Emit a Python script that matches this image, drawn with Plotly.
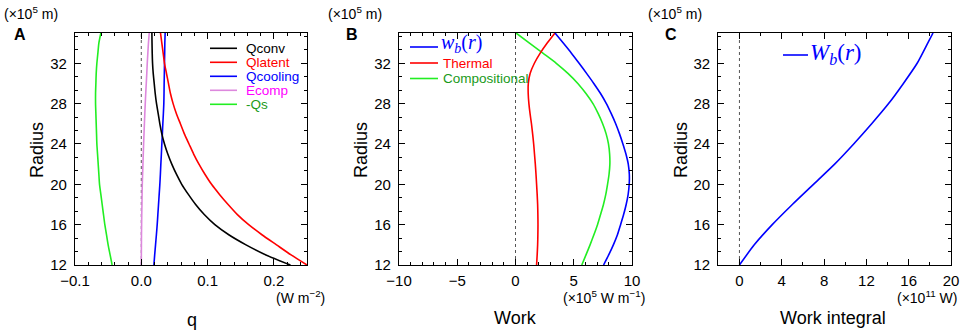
import plotly.graph_objects as go

# ---------------- data ----------------
radius = list(range(12, 36))

q_conv = [0.225, 0.188, 0.158, 0.132, 0.111, 0.095, 0.082, 0.071, 0.061, 0.053, 0.046, 0.040,
          0.035, 0.031, 0.028, 0.0255, 0.023, 0.021, 0.0195, 0.018, 0.017, 0.0165, 0.0162, 0.016]
q_latent = [0.25, 0.226, 0.204, 0.182, 0.162, 0.145, 0.131, 0.118, 0.106, 0.096, 0.087, 0.079,
            0.072, 0.065, 0.059, 0.053, 0.048, 0.044, 0.041, 0.038, 0.035, 0.033, 0.031, 0.029]
q_cooling = [0.019, 0.0202, 0.0215, 0.0228, 0.024, 0.025, 0.026, 0.027, 0.028, 0.0288, 0.0295, 0.0303,
             0.031, 0.0318, 0.0325, 0.0333, 0.034, 0.0343, 0.0345, 0.0348, 0.035, 0.0353, 0.0355, 0.036]
e_comp = [0.0, 0.0001, 0.0002, 0.0003, 0.0005, 0.0007, 0.001, 0.0012, 0.0015, 0.002, 0.0025, 0.003,
          0.0035, 0.0041, 0.0047, 0.0053, 0.006, 0.0067, 0.0075, 0.0083, 0.009, 0.0099, 0.0108, 0.012]
neg_qs = [-0.044, -0.047, -0.050, -0.0525, -0.055, -0.057, -0.059, -0.061, -0.063, -0.064, -0.065, -0.066,
          -0.067, -0.0675, -0.068, -0.0685, -0.069, -0.069, -0.0685, -0.068, -0.067, -0.0655, -0.064, -0.061]

radius_b = list(range(12, 36))
work_total = [7.56, 8.0, 8.4, 8.75, 9.02, 9.28, 9.5, 9.67, 9.76, 9.77, 9.68, 9.48,
              9.22, 8.93, 8.6, 8.22, 7.8, 7.3, 6.72, 6.1, 5.46, 4.8, 4.1, 3.39]
work_thermal = [1.81, 1.86, 1.9, 1.92, 1.93, 1.92, 1.9, 1.86, 1.81, 1.76, 1.7, 1.63,
                1.56, 1.47, 1.37, 1.25, 1.15, 1.09, 1.1, 1.26, 1.62, 2.12, 2.72, 3.39]
work_comp = [5.69, 6.05, 6.4, 6.73, 7.04, 7.3, 7.55, 7.75, 7.9, 8.03, 8.1, 8.08,
             7.98, 7.78, 7.48, 7.1, 6.65, 6.05, 5.35, 4.5, 3.5, 2.35, 1.2, 0.05]

radius_c = [12, 14, 16, 18, 20, 22, 24, 26, 28, 30, 32, 34, 35]
work_integral = [0.0, 1.4, 3.1, 5.0, 7.0, 9.0, 10.8, 12.5, 14.1, 15.5, 16.8, 17.8, 18.3]

y_ticks = [12, 16, 20, 24, 28, 32]

# ---------------- layout helpers ----------------
W, H = 963, 332
def px(x):
    return x / W
def py(y):
    return 1 - y / H

FONT = "Liberation Sans, Arial, sans-serif"
SERIF = "Liberation Serif, DejaVu Serif, serif"
PLUM = "#dd88dd"
LIME = "#22ee22"
DKGREEN = "#1a9a1a"

fig = go.Figure()

def line(x, y, color, xa, ya):
    fig.add_trace(go.Scatter(x=x, y=y, mode="lines", xaxis=xa, yaxis=ya,
                             line=dict(color=color, width=1.6, shape="spline", smoothing=0.6),
                             showlegend=False, hoverinfo="skip", cliponaxis=True))

# Panel A
line(neg_qs, radius, LIME, "x", "y")
line(e_comp, radius, PLUM, "x", "y")
line(q_cooling, radius, "#0000ff", "x", "y")
line(q_latent, radius, "#ff0000", "x", "y")
line(q_conv, radius, "#000000", "x", "y")
# Panel B
line(work_comp, radius_b, LIME, "x2", "y2")
line(work_thermal, radius_b, "#ff0000", "x2", "y2")
line(work_total, radius_b, "#0000ff", "x2", "y2")
# Panel C
line(work_integral, radius_c, "#0000ff", "x3", "y3")

doms = {
    "A": (px(75), px(307)),
    "B": (px(399), px(632)),
    "C": (px(718.3), px(951)),
}
ydom = [py(265), py(33)]

def xaxis(dom, rng, dtick, minor, anchor):
    return dict(domain=list(dom), range=rng, dtick=dtick, tick0=0, anchor=anchor,
                automargin=False,
                ticks="inside", ticklen=6, tickwidth=1, tickcolor="black",
                minor=dict(dtick=minor, tick0=0, ticks="inside", ticklen=3, tickwidth=1, tickcolor="black"),
                showline=True, linecolor="black", linewidth=1.2, mirror="ticks",
                showgrid=False, zeroline=False, ticklabelstandoff=2,
                tickfont=dict(family=FONT, size=15, color="black"))

def yaxis(anchor):
    return dict(domain=ydom, range=[12, 35], tickvals=y_ticks, anchor=anchor,
                automargin=False,
                ticks="inside", ticklen=6, tickwidth=1, tickcolor="black",
                minor=dict(dtick=4/3, tick0=12, ticks="inside", ticklen=3, tickwidth=1, tickcolor="black"),
                showline=True, linecolor="black", linewidth=1.2, mirror="ticks",
                showgrid=False, zeroline=False, ticklabelstandoff=4,
                tickfont=dict(family=FONT, size=15, color="black"))

fig.update_layout(
    width=W, height=H, margin=dict(l=0, r=0, t=0, b=0, autoexpand=False),
    paper_bgcolor="white", plot_bgcolor="white", showlegend=False,
    xaxis=xaxis(doms["A"], [-0.1, 0.25], 0.1, 0.02, "y") | dict(tickformat=".1f"),
    yaxis=yaxis("x"),
    xaxis2=xaxis(doms["B"], [-10, 10], 5, 1, "y2"),
    yaxis2=yaxis("x2"),
    xaxis3=xaxis(doms["C"], [-2, 20], 4, 2, "y3"),
    yaxis3=yaxis("x3"),
)

# zero reference lines
for xa, ya in (("x", "y"), ("x2", "y2"), ("x3", "y3")):
    fig.add_shape(type="line", xref=xa, yref=ya + " domain", x0=0, x1=0, y0=0, y1=1,
                  line=dict(color="#555555", width=1, dash="dot"), layer="below")

ann = []
def text(x, y, s, size=13, color="black", xanchor="left", family=FONT, textangle=0):
    ann.append(dict(x=px(x), y=py(y), xref="paper", yref="paper", text=s, showarrow=False,
                    xanchor=xanchor, yanchor="middle", textangle=textangle,
                    font=dict(family=family, size=size, color=color)))

def leg_line(x0, x1, y, color):
    fig.add_shape(type="line", xref="paper", yref="paper", x0=px(x0), x1=px(x1), y0=py(y), y1=py(y),
                  line=dict(color=color, width=1.6))

# Panel letters and units
for lx, letter, ux in ((20, "A", 2), (352, "B", 326), (671, "C", 646)):
    text(lx, 35, "<b>" + letter + "</b>", size=16, xanchor="center")
    text(ux, 13, "(×10<sup>5</sup> m)", size=14)
    text(ux + 35, 150, "Radius", size=18, xanchor="center", textangle=-90)

text(327, 297, "(W m<sup>−2</sup>)", size=14, xanchor="right")
text(647, 297, "(×10<sup>5</sup> W m<sup>−1</sup>)", size=14, xanchor="right")
text(959, 297, "(×10<sup>11</sup> W)", size=14, xanchor="right")
text(192, 320, "q", size=18, xanchor="center")
text(515, 318, "Work", size=18, xanchor="center")
text(833, 318, "Work integral", size=18, xanchor="center")

# Legend A
legA = [("Qconv", "#000000", "#000000"), ("Qlatent", "#ff0000", "#ff0000"),
        ("Qcooling", "#0000ff", "#0000ff"), ("Ecomp", PLUM, "#ff00ff"), ("-Qs", LIME, DKGREEN)]
for i, (name, lc, tc) in enumerate(legA):
    yy = 48.3 + i * 14
    leg_line(210, 237, yy, lc)
    text(244, yy, name, size=13.5, color=tc)

# Legend B
leg_line(410, 438, 47, "#0000ff")
text(439, 44, "<i>w</i><sub><i>b</i></sub>(<i>r</i>)", size=20, color="#0000ff", family=SERIF)
leg_line(410, 438, 63, "#ff0000")
text(441, 64, "Thermal", size=13.5, color="#ff0000")
leg_line(410, 438, 78.5, LIME)
text(441, 79, "Compositional", size=13.5, color=DKGREEN)

# Legend C
leg_line(783, 808, 55, "#0000ff")
text(808, 54, "<i>W</i><sub><i>b</i></sub>(<i>r</i>)", size=23, color="#0000ff", family=SERIF)

fig.update_layout(annotations=ann)
fig.write_html("out.html", config={"displayModeBar": False},
               post_script="document.body.style.margin='0';document.body.style.padding='0';"
                           "document.documentElement.style.overflow='hidden';")
